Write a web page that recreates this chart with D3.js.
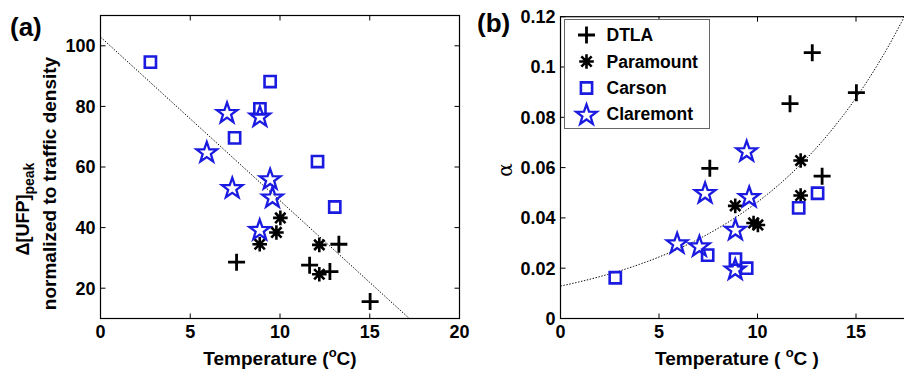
<!DOCTYPE html>
<html>
<head>
<meta charset="utf-8">
<script src="https://cdn.jsdelivr.net/npm/d3@7"></script>
<style>
  html, body { margin: 0; padding: 0; background: #fff; }
  svg { display: block; }
  text { font-family: "Liberation Sans", Arial, sans-serif; font-weight: bold; fill: #000; }
</style>
</head>
<body>
<svg id="fig" width="904" height="369"></svg>
<script>
// Site names (legend order)
const sites = ["DTLA", "Paramount", "Carson", "Claremont"];

// Mean temperature (°C) for each sampled period, per site
const tempDTLA      = [7.58, 11.65, 12.78, 13.28, 15.02];
const tempParamount = [8.87, 9.80, 10.02, 12.19, 12.19];
const tempCarson    = [2.78, 7.47, 8.88, 9.45, 12.09, 13.05];
const tempClaremont = [5.92, 7.05, 7.34, 8.87, 8.88, 9.45, 9.58];

// (a) Δ[UFP]peak normalized to traffic density
const ufpDTLA      = [28.6, 27.6, 25.5, 34.5, 15.6];
const ufpParamount = [34.5, 38.4, 43.2, 34.3, 24.6];
const ufpCarson    = [94.6, 69.6, 79.2, 88.2, 61.8, 46.8];
const ufpClaremont = [65.1, 78.1, 53.3, 39.5, 76.9, 56.2, 50.2];

// (b) α
const alphaDTLA      = [0.0597, 0.0854, 0.1057, 0.0566, 0.0898];
const alphaParamount = [0.0448, 0.0380, 0.0372, 0.0628, 0.0489];
const alphaCarson    = [0.0162, 0.0252, 0.0236, 0.0200, 0.0440, 0.0498];
const alphaClaremont = [0.0302, 0.0290, 0.0502, 0.0198, 0.0356, 0.0668, 0.0486];

// Fits: linear for (a), exponential for (b)
const linIntercept = 102.9, linSlope = -5.4;
const expA = 0.0129, expB = 0.1278;

// Axis ticks
const xTicks = [0, 5, 10, 15, 20];
const ufpTicks = [20, 40, 60, 80, 100];
const alphaTicks = [0, 0.02, 0.04, 0.06, 0.08, 0.1, 0.12];

const blue = "#1a1ae0";
const pageWidth = 904;

// Marker styles per site
const markerPath = {
  DTLA: "M-8.5,0H8.5M0,-8.5V8.5",
  Paramount: (() => {
    const r = 7.3, d = r * Math.SQRT1_2;
    return `M${-r},0H${r}M0,${-r}V${r}M${-d},${-d}L${d},${d}M${-d},${d}L${d},${-d}`;
  })(),
  Carson: "M-5.6,-5.6h11.2v11.2h-11.2z",
  Claremont: (() => {
    const ro = 10.8, ri = 4.3;
    const pts = d3.range(10).map(i => {
      const a = -Math.PI / 2 + i * Math.PI / 5;
      const r = i % 2 ? ri : ro;
      return [r * Math.cos(a), r * Math.sin(a) + 1.2];
    });
    return "M" + pts.map(p => p.join(",")).join("L") + "Z";
  })()
};
const markerStyle = {
  DTLA: { color: "#000", width: 2.8 },
  Paramount: { color: "#000", width: 2.6 },
  Carson: { color: blue, width: 2.6 },
  Claremont: { color: blue, width: 2.3 }
};

const svg = d3.select("#fig");

function drawMarkers(g, site, xs, ys, x, y) {
  const st = markerStyle[site];
  g.selectAll(null)
    .data(xs.map((t, i) => [t, ys[i]]))
    .join("path")
    .attr("d", markerPath[site])
    .attr("transform", d => `translate(${x(d[0])},${y(d[1])})`)
    .attr("fill", "none")
    .attr("stroke", st.color)
    .attr("stroke-width", st.width)
    .attr("stroke-linejoin", "miter");
}

function drawFrame(g, x, y, xt, yt, yFormat) {
  const [x0, x1] = x.range();
  const [y0, y1] = y.range();
  const tl = 5;
  // ticks on all four sides, pointing inward
  xt.forEach(v => {
    const px = x(v);
    g.append("line").attr("x1", px).attr("x2", px).attr("y1", y0).attr("y2", y0 - tl);
    g.append("line").attr("x1", px).attr("x2", px).attr("y1", y1).attr("y2", y1 + tl);
  });
  yt.forEach(v => {
    const py = y(v);
    g.append("line").attr("x1", x0).attr("x2", x0 + tl).attr("y1", py).attr("y2", py);
    g.append("line").attr("x1", x1).attr("x2", x1 - tl).attr("y1", py).attr("y2", py);
  });
  g.selectAll("line").attr("stroke", "#000").attr("stroke-width", 1);
  g.append("rect")
    .attr("x", x0).attr("y", y1)
    .attr("width", x1 - x0).attr("height", y0 - y1)
    .attr("fill", "none").attr("stroke", "#000").attr("stroke-width", 1.2);
  // tick labels (only those that fall on the page)
  g.selectAll(null).data(xt.filter(v => x(v) + 12 < pageWidth)).join("text")
    .attr("x", d => x(d)).attr("y", 338)
    .attr("text-anchor", "middle").attr("font-size", 18)
    .text(d => d);
  g.selectAll(null).data(yt).join("text")
    .attr("x", x0 - 5).attr("y", d => y(d)).attr("dy", "0.36em")
    .attr("text-anchor", "end").attr("font-size", 18)
    .text(yFormat);
}

// ---------- Panel (a) ----------
{
  const x = d3.scaleLinear().domain([0, 20]).range([100.5, 459.5]);
  const y = d3.scaleLinear().domain([10, 110]).range([318.5, 15.5]);
  const g = svg.append("g");
  const frame = g.append("g");
  drawFrame(frame, x, y, xTicks, ufpTicks, d => d);

  // linear fit, clipped at the bottom of the axes
  const xEnd = (10 - linIntercept) / linSlope;
  g.append("path")
    .attr("d", d3.line()([[x(0), y(linIntercept)], [x(xEnd), y(10)]]))
    .attr("stroke", "#000").attr("stroke-width", 1)
    .attr("stroke-dasharray", "1.4,1.6").attr("fill", "none");

  const pts = g.append("g");
  drawMarkers(pts, "DTLA", tempDTLA, ufpDTLA, x, y);
  drawMarkers(pts, "Paramount", tempParamount, ufpParamount, x, y);
  drawMarkers(pts, "Carson", tempCarson, ufpCarson, x, y);
  drawMarkers(pts, "Claremont", tempClaremont, ufpClaremont, x, y);

  g.append("text").attr("x", 10).attr("y", 36).attr("font-size", 26).text("(a)");

  const xl = g.append("text").attr("x", 280).attr("y", 365)
    .attr("text-anchor", "middle").attr("font-size", 19);
  xl.append("tspan").text("Temperature (");
  xl.append("tspan").attr("font-size", 13).attr("dy", -8).text("o");
  xl.append("tspan").attr("dy", 8).text("C)");

  const yl1 = g.append("text")
    .attr("transform", "translate(29,209) rotate(-90)")
    .attr("text-anchor", "middle").attr("font-size", 18);
  yl1.append("tspan").text("Δ[UFP]");
  yl1.append("tspan").attr("font-size", 14).attr("dy", 5).text("peak");

  g.append("text")
    .attr("transform", "translate(56,183.5) rotate(-90)")
    .attr("text-anchor", "middle").attr("font-size", 19)
    .text("normalized to traffic density");
}

// ---------- Panel (b) ----------
{
  const x = d3.scaleLinear().domain([0, 20]).range([560.5, 954.5]);
  const y = d3.scaleLinear().domain([0, 0.12]).range([318.5, 16.7]);
  const g = svg.append("g");
  const frame = g.append("g");
  drawFrame(frame, x, y, xTicks, alphaTicks, d => d === 0 ? "0" : String(+d.toFixed(2)));

  // exponential fit, cut where it leaves the top of the axes
  const tMax = Math.log(0.12 / expA) / expB;
  const temps = d3.range(0, tMax, 0.1).concat([tMax]);
  g.append("path")
    .attr("d", d3.line().x(t => x(t)).y(t => y(expA * Math.exp(expB * t)))(temps))
    .attr("stroke", "#000").attr("stroke-width", 1)
    .attr("stroke-dasharray", "1.4,1.6").attr("fill", "none");

  const pts = g.append("g");
  drawMarkers(pts, "DTLA", tempDTLA, alphaDTLA, x, y);
  drawMarkers(pts, "Paramount", tempParamount, alphaParamount, x, y);
  drawMarkers(pts, "Carson", tempCarson, alphaCarson, x, y);
  drawMarkers(pts, "Claremont", tempClaremont, alphaClaremont, x, y);

  g.append("text").attr("x", 477).attr("y", 32).attr("font-size", 26).text("(b)");

  const xl = g.append("text").attr("x", 737).attr("y", 365)
    .attr("text-anchor", "middle").attr("font-size", 19);
  xl.append("tspan").text("Temperature ( ");
  xl.append("tspan").attr("font-size", 13).attr("dy", -8).text("o");
  xl.append("tspan").attr("dy", 8).text("C )");

  g.append("text")
    .attr("transform", "translate(512,170) rotate(-90)")
    .attr("text-anchor", "middle").attr("font-size", 20)
    .style("font-family", "'DejaVu Serif', serif").style("font-weight", "normal")
    .text("α");

  // legend
  const lg = g.append("g");
  lg.append("rect").attr("x", 564.5).attr("y", 19.5).attr("width", 145).attr("height", 109)
    .attr("fill", "#fff").attr("stroke", "#666").attr("stroke-width", 1);
  const rowY = [35, 61.5, 88, 114];
  sites.forEach((s, i) => {
    const st = markerStyle[s];
    lg.append("path").attr("d", markerPath[s])
      .attr("transform", `translate(586.5,${rowY[i]})`)
      .attr("fill", "none").attr("stroke", st.color).attr("stroke-width", st.width);
    lg.append("text").attr("x", 606.5).attr("y", rowY[i]).attr("dy", "0.36em")
      .attr("font-size", 17.5).text(s);
  });
}
</script>
</body>
</html>
